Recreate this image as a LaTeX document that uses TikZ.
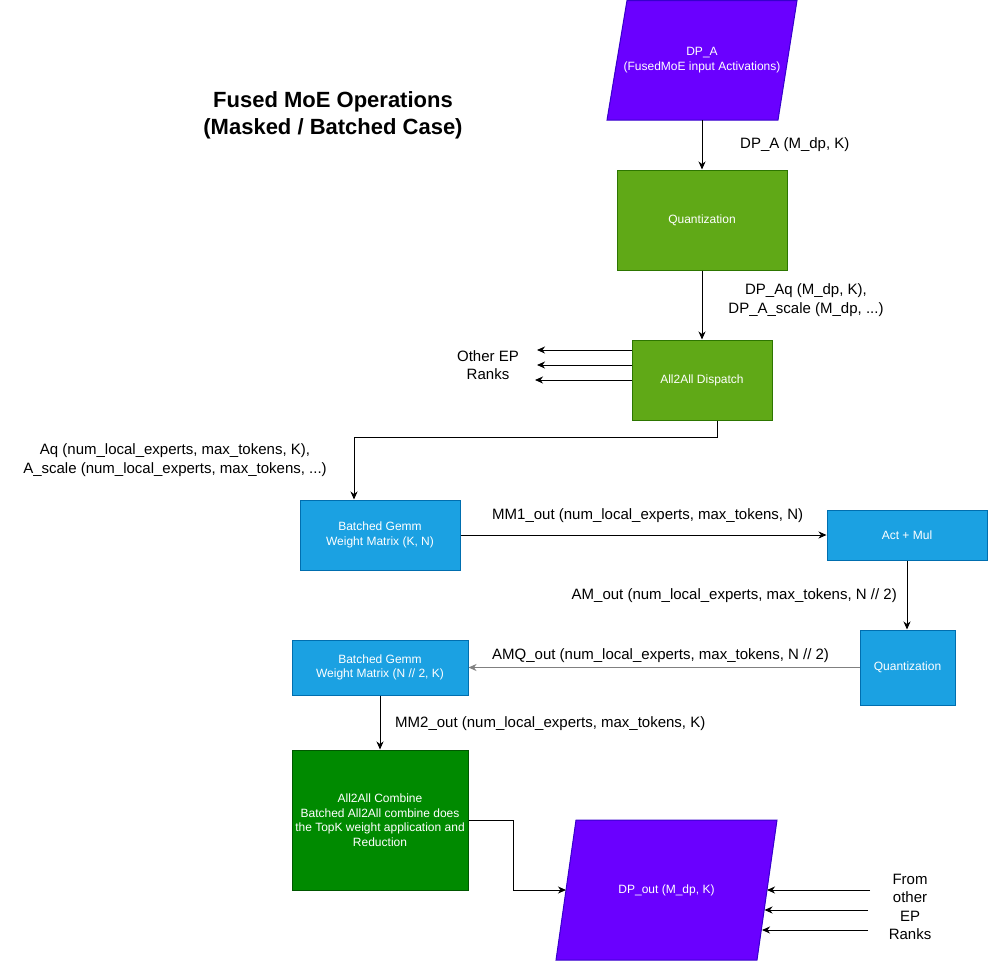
\documentclass[tikz,border=0pt]{standalone}
\usepackage{fontspec}
\setmainfont{Liberation Sans}
\usetikzlibrary{arrows.meta}
\definecolor{purpF}{HTML}{6A00FF}
\definecolor{purpD}{HTML}{3700CC}
\definecolor{grnF}{HTML}{60A917}
\definecolor{grnD}{HTML}{2D7600}
\definecolor{bluF}{HTML}{1BA1E2}
\definecolor{bluD}{HTML}{006EAF}
\definecolor{dgrF}{HTML}{008A00}
\definecolor{dgrD}{HTML}{005700}
\definecolor{edgeGray}{HTML}{808080}
\tikzset{
  box/.style={draw, line width=1pt, text=white, align=center, inner sep=0pt,
    font=\fontsize{12}{14.5}\selectfont},
  gbox/.style={box, fill=grnF, draw=grnD},
  bbox/.style={box, fill=bluF, draw=bluD},
  cbox/.style={box, fill=dgrF, draw=dgrD},
  para/.style={fill=purpF, draw=purpD, line width=1pt},
  ptext/.style={text=white, align=center, inner sep=0pt, font=\fontsize{12}{15.5}\selectfont},
  arr/.style={draw, line width=1pt, -{Stealth[length=8pt,width=7pt,inset=2.5pt]}},
  lbl/.style={align=center, inner sep=0pt, font=\fontsize{15}{18.5}\selectfont},
  ttl/.style={align=center, inner sep=0pt, font=\fontsize{22}{27}\selectfont\bfseries},
}
\begin{document}
\begin{tikzpicture}[x=1pt,y=-1pt]
\useasboundingbox (0,0) rectangle (988,961);

% parallelograms
\draw[para] (627,0.5) -- (797,0.5) -- (778,120) -- (607,120) -- cycle;
\node[ptext, minimum width=150, minimum height=120] (dpa) at (702,60) {DP\_A\\(FusedMoE input Activations)};
\draw[para] (576,820) -- (777,820) -- (757,960) -- (556,960) -- cycle;
\node[ptext, minimum width=180, minimum height=20] (dpo) at (666.5,890) {DP\_out (M\_dp, K)};
\coordinate (dpL) at (566,890);
\coordinate (dpR1) at (767,890);
\coordinate (dpR2) at (764.5,910);
\coordinate (dpR3) at (762,930);

% boxes
\node[gbox, minimum width=170, minimum height=100] (q1) at (702,220) {Quantization};
\node[gbox, minimum width=140, minimum height=80] (disp) at (702,380) {All2All Dispatch};
\node[bbox, minimum width=160, minimum height=70] (bg1) at (380,535) {Batched Gemm\\Weight Matrix (K, N)};
\node[bbox, minimum width=160, minimum height=50] (act) at (907,535) {Act + Mul};
\node[bbox, minimum width=95, minimum height=75] (q2) at (907.5,667.5) {Quantization};
\node[bbox, minimum width=176, minimum height=55] (bg2) at (380,667.5) {Batched Gemm\\Weight Matrix (N // 2, K)};
\node[cbox, minimum width=176, minimum height=140] (comb) at (380,820) {All2All Combine\\Batched All2All combine does\\the TopK weight application and\\Reduction};

% labels
\node[ttl] (title) at (333,115) {Fused MoE Operations\\(Masked / Batched Case)};
\node[lbl, anchor=west] (l1) at (740,145) {DP\_A (M\_dp, K)};
\node[lbl] (l2) at (806,300) {DP\_Aq (M\_dp, K),\\DP\_A\_scale (M\_dp, ...)};
\node[lbl] (lother) at (488,365) {Other EP\\Ranks};
\node[lbl] (l3) at (175,460) {Aq (num\_local\_experts, max\_tokens, K),\\A\_scale (num\_local\_experts, max\_tokens, ...)};
\node[lbl, anchor=west] (l4) at (492,516) {MM1\_out (num\_local\_experts, max\_tokens, N)};
\node[lbl, anchor=east] (l5) at (897,596) {AM\_out (num\_local\_experts, max\_tokens, N // 2)};
\node[lbl, anchor=west] (l6) at (492,656) {AMQ\_out (num\_local\_experts, max\_tokens, N // 2)};
\node[lbl, anchor=west] (l7) at (395,724) {MM2\_out (num\_local\_experts, max\_tokens, K)};
\node[lbl] (lfrom) at (910,907) {From\\other\\EP\\Ranks};

% free ends
\coordinate (o1) at (537,350);
\coordinate (o2) at (537,365);
\coordinate (o3) at (535,380);
\coordinate (f1) at (870,890);
\coordinate (f2) at (868,910);
\coordinate (f3) at (868,930);

% connectors
\draw[arr] (dpa.south) -- (q1.north);
\draw[arr] (q1.south) -- (disp.north);
\draw[arr] (disp.west |- o1) -- (o1);
\draw[arr] (disp.west |- o2) -- (o2);
\draw[arr] (disp.west |- o3) -- (o3);
\draw[arr] ([xshift=15pt]disp.south) -- ++(0,17) -| ([xshift=-26pt]bg1.north);
\draw[arr] (bg1.east) -- (act.west);
\draw[arr] (act.south) -- (act.south |- q2.north);
\draw[arr, draw=edgeGray] (q2.west) -- (bg2.east);
\draw[arr] (bg2.south) -- (comb.north);
\draw[arr] (comb.east) -- ++(45,0) |- (dpL);
\draw[arr] (f1) -- (dpR1);
\draw[arr] (f2) -- (dpR2);
\draw[arr] (f3) -- (dpR3);
\end{tikzpicture}
\end{document}
